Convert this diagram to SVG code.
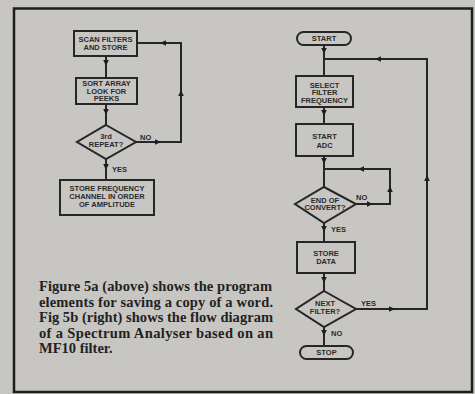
<svg xmlns="http://www.w3.org/2000/svg" xmlns:xlink="http://www.w3.org/1999/xlink" width="475" height="394" viewBox="0 0 475 394">
<style>
.bg{fill:#c8c6c3}
.frame{fill:none;stroke:#1e1e1e;stroke-width:2.5}
.box{fill:#c8c6c3;stroke:#262626;stroke-width:2}
.ln{fill:none;stroke:#262626;stroke-width:2}
.t{font-family:"Liberation Sans",Arial,sans-serif;font-weight:bold;font-size:7.5px;fill:#2a2a2a;text-anchor:middle}
.lbl{font-family:"Liberation Sans",Arial,sans-serif;font-weight:bold;font-size:7.5px;fill:#2a2a2a}
.cap{font-family:"Liberation Serif","Times New Roman",serif;font-weight:bold;font-size:14.5px;fill:#222}
.ah{fill:#1e1e1e}
</style>
<defs>
<path id="ah" d="M-3,-2.8 L3,0 L-3,2.8 Z"/>
</defs>
<rect class="bg" x="0" y="0" width="475" height="394"/>
<rect class="frame" x="14" y="8.5" width="458" height="383.5"/>

<g id="connectors">
<!-- left chart -->
<line class="ln" x1="106" y1="56" x2="106" y2="78"/>
<line class="ln" x1="106" y1="104" x2="106" y2="125"/>
<polyline class="ln" points="136,142 181,142 181,43 137,43"/>
<line class="ln" x1="106" y1="159" x2="106" y2="180"/>
<use href="#ah" class="ah" transform="translate(106,63) rotate(90)"/>
<use href="#ah" class="ah" transform="translate(106,112) rotate(90)"/>
<use href="#ah" class="ah" transform="translate(106,167) rotate(90)"/>
<use href="#ah" class="ah" transform="translate(158,142)"/>
<use href="#ah" class="ah" transform="translate(181,93) rotate(-90)"/>
<use href="#ah" class="ah" transform="translate(163,43) rotate(180)"/>
<!-- right chart -->
<line class="ln" x1="324" y1="45" x2="324" y2="76"/>
<line class="ln" x1="324" y1="107" x2="324" y2="124"/>
<line class="ln" x1="324" y1="156" x2="324" y2="187"/>
<polyline class="ln" points="356,204 390,204 390,169 324,169"/>
<line class="ln" x1="324" y1="223" x2="324" y2="242"/>
<line class="ln" x1="324" y1="273" x2="324" y2="291"/>
<polyline class="ln" points="356,309 427,309 427,59 324,59"/>
<line class="ln" x1="324" y1="327" x2="324" y2="346"/>
<use href="#ah" class="ah" transform="translate(324,51) rotate(90)"/>
<use href="#ah" class="ah" transform="translate(324,113) rotate(90)"/>
<use href="#ah" class="ah" transform="translate(324,161) rotate(90)"/>
<use href="#ah" class="ah" transform="translate(361,169) rotate(180)"/>
<use href="#ah" class="ah" transform="translate(390,189) rotate(-90)"/>
<use href="#ah" class="ah" transform="translate(370,204)"/>
<use href="#ah" class="ah" transform="translate(324,229) rotate(90)"/>
<use href="#ah" class="ah" transform="translate(324,280) rotate(90)"/>
<use href="#ah" class="ah" transform="translate(392,309)"/>
<use href="#ah" class="ah" transform="translate(427,178) rotate(-90)"/>
<use href="#ah" class="ah" transform="translate(378,59) rotate(180)"/>
<use href="#ah" class="ah" transform="translate(324,333) rotate(90)"/>
<text class="lbl" x="140" y="140">NO</text>
<text class="lbl" x="112" y="172">YES</text>
<text class="lbl" x="356" y="200">NO</text>
<text class="lbl" x="331" y="232">YES</text>
<text class="lbl" x="361" y="306">YES</text>
<text class="lbl" x="331" y="336">NO</text>
</g>

<g id="scan">
<rect class="box" x="74" y="31" width="63" height="25"/>
<text class="t" x="105.5" y="41.5">SCAN FILTERS</text>
<text class="t" x="105.5" y="50">AND STORE</text>
</g>
<g id="sort">
<rect class="box" x="76" y="78" width="61" height="26"/>
<text class="t" x="106.5" y="86">SORT ARRAY</text>
<text class="t" x="106.5" y="93.5">LOOK FOR</text>
<text class="t" x="106.5" y="101">PEEKS</text>
</g>
<g id="repeat">
<polygon class="box" points="106,125 136,142 106,159 77,142"/>
<text class="t" x="106" y="139">3rd</text>
<text class="t" x="106" y="147">REPEAT?</text>
</g>
<g id="storefreq">
<rect class="box" x="60" y="180" width="94" height="35"/>
<text class="t" x="107" y="191">STORE FREQUENCY</text>
<text class="t" x="107" y="199">CHANNEL IN ORDER</text>
<text class="t" x="107" y="207">OF AMPLITUDE</text>
</g>

<g id="start">
<rect class="box" x="297" y="32" width="54" height="13" rx="6.5"/>
<text class="t" x="324" y="41.3">START</text>
</g>
<g id="select">
<rect class="box" x="296" y="76" width="57" height="31"/>
<text class="t" x="324.5" y="87.5">SELECT</text>
<text class="t" x="324.5" y="95.3">FILTER</text>
<text class="t" x="324.5" y="103">FREQUENCY</text>
</g>
<g id="startadc">
<rect class="box" x="296" y="124" width="57" height="32"/>
<text class="t" x="324.5" y="139">START</text>
<text class="t" x="324.5" y="147.5">ADC</text>
</g>
<g id="endconv">
<polygon class="box" points="324,187 356,204 324,223 295,204"/>
<text class="t" x="325" y="202.5">END OF</text>
<text class="t" x="325" y="210">CONVERT?</text>
</g>
<g id="storedata">
<rect class="box" x="297" y="242" width="58" height="31"/>
<text class="t" x="326" y="256">STORE</text>
<text class="t" x="326" y="264">DATA</text>
</g>
<g id="nextfilter">
<polygon class="box" points="324,291 356,309 324,327 296,309"/>
<text class="t" x="325" y="306">NEXT</text>
<text class="t" x="325" y="313.5">FILTER?</text>
</g>
<g id="stop">
<rect class="box" x="300" y="346" width="53" height="13" rx="6.5"/>
<text class="t" x="326.5" y="355.3">STOP</text>
</g>

<g id="caption">
<text class="cap" x="39" y="291" textLength="233" lengthAdjust="spacing">Figure 5a (above) shows the program</text>
<text class="cap" x="39" y="306.5" textLength="234" lengthAdjust="spacing">elements for saving a copy of a word.</text>
<text class="cap" x="39" y="322" textLength="234" lengthAdjust="spacing">Fig 5b (right) shows the flow diagram</text>
<text class="cap" x="39" y="337.5" textLength="234" lengthAdjust="spacing">of a Spectrum Analyser based on an</text>
<text class="cap" x="39" y="353">MF10 filter.</text>
</g>
</svg>
